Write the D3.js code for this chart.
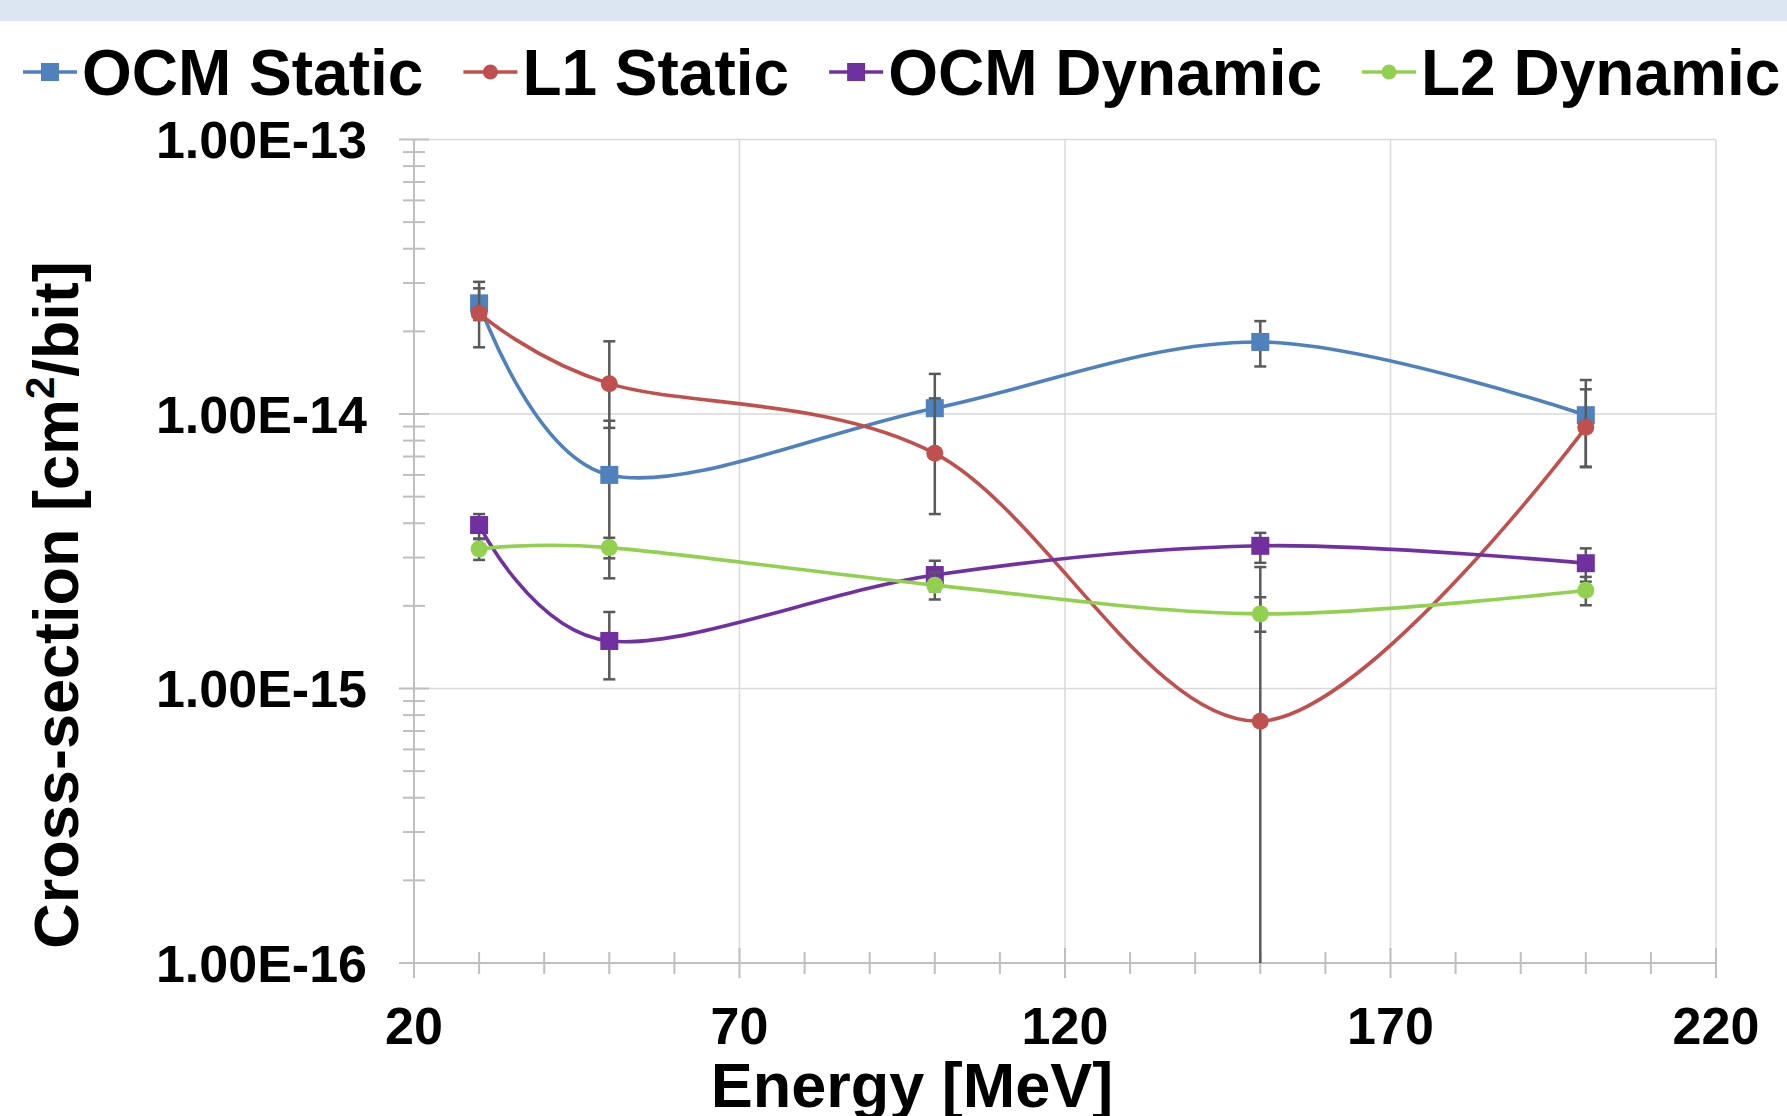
<!DOCTYPE html>
<html>
<head>
<meta charset="utf-8">
<script src="https://cdn.jsdelivr.net/npm/d3@7"></script>
<style>
  html, body { margin: 0; padding: 0; background: #FFFFFF; }
  svg { display: block; }
  text { font-family: "Liberation Sans", Arial, sans-serif; font-weight: bold; fill: #000000; }
</style>
</head>
<body>
<svg id="chart"></svg>
<script>
//--Data
var energy = [30, 50, 100, 150, 200];

var ocmStatic   = [2.53e-14, 6.0e-15, 1.05e-14, 1.83e-14, 9.9e-15];
var ocmStaticLo = [2.2e-14, 2.52e-15, 7.5e-15, 1.49e-14, 6.43e-15];
var ocmStaticHi = [3.03e-14, 9.45e-15, 1.40e-14, 2.18e-14, 1.33e-14];

var l1Static   = [2.33e-14, 1.29e-14, 7.19e-15, 7.6e-16, 8.94e-15];
var l1StaticLo = [1.75e-14, 8.9e-15, 4.32e-15, 0, 6.4e-15];
var l1StaticHi = [2.87e-14, 1.84e-14, 1.14e-14, 2.77e-15, 1.23e-14];

var ocmDynamic   = [3.94e-15, 1.49e-15, 2.59e-15, 3.31e-15, 2.86e-15];
var ocmDynamicLo = [3.52e-15, 1.08e-15, 2.26e-15, 2.87e-15, 2.45e-15];
var ocmDynamicHi = [4.32e-15, 1.90e-15, 2.92e-15, 3.69e-15, 3.24e-15];

var l2Dynamic   = [3.22e-15, 3.26e-15, 2.38e-15, 1.87e-15, 2.28e-15];
var l2DynamicLo = [2.94e-15, 2.98e-15, 2.11e-15, 1.61e-15, 2.01e-15];
var l2DynamicHi = [3.5e-15, 3.54e-15, 2.65e-15, 2.15e-15, 2.55e-15];

var seriesNames = ["OCM Static", "L1 Static", "OCM Dynamic", "L2 Dynamic"];
var xMajorTicks = [20, 70, 120, 170, 220];
var yDomain = [1e-16, 1e-13];

//--Shared info
var canvas = {
  width: 1787,
  height: 1116,
  left: 414,
  right: 1716,
  top: 139.5,
  bottom: 963,
  grid: "#D9D9D9",
  axis: "#BFBFBF",
  errColor: "#595959"
};
canvas.x = d3.scaleLinear().domain([20, 220]).range([canvas.left, canvas.right]);
canvas.y = d3.scaleLog().domain(yDomain).range([canvas.bottom, canvas.top]);

var series = [
  {name: seriesNames[0], color: "#4F81BD", shape: "square", v: ocmStatic, lo: ocmStaticLo, hi: ocmStaticHi},
  {name: seriesNames[1], color: "#C0504D", shape: "circle", v: l1Static, lo: l1StaticLo, hi: l1StaticHi},
  {name: seriesNames[2], color: "#7030A0", shape: "square", v: ocmDynamic, lo: ocmDynamicLo, hi: ocmDynamicHi},
  {name: seriesNames[3], color: "#92D050", shape: "circle", v: l2Dynamic, lo: l2DynamicLo, hi: l2DynamicHi}
];

let root = d3.select("#chart")
  .attr("width", canvas.width)
  .attr("height", canvas.height);

//Top band
root.append("rect")
  .attr("x", 0).attr("y", 0)
  .attr("width", canvas.width).attr("height", 21)
  .attr("fill", "#DCE6F2");

//--Grid
let isMajor = d => Math.abs(Math.log10(d) - Math.round(Math.log10(d))) < 1e-9;
let yTicks = canvas.y.ticks();

let grid = root.append("g").classed("grid", true);
grid.selectAll("line.h")
  .data(yTicks.filter(d => isMajor(d) && d > yDomain[0]))
  .enter().append("line")
  .attr("x1", canvas.left).attr("x2", canvas.right)
  .attr("y1", d => canvas.y(d)).attr("y2", d => canvas.y(d))
  .attr("stroke", canvas.grid).attr("stroke-width", 1.5);
grid.selectAll("line.v")
  .data(xMajorTicks.slice(1))
  .enter().append("line")
  .attr("x1", d => canvas.x(d)).attr("x2", d => canvas.x(d))
  .attr("y1", canvas.top).attr("y2", canvas.bottom)
  .attr("stroke", canvas.grid).attr("stroke-width", 1.5);

//--Axes
let axes = root.append("g").classed("axes", true)
  .attr("stroke", canvas.axis).attr("stroke-width", 2);
axes.append("line")
  .attr("x1", canvas.left).attr("x2", canvas.left)
  .attr("y1", canvas.top).attr("y2", canvas.bottom);
axes.append("line")
  .attr("x1", canvas.left).attr("x2", canvas.right)
  .attr("y1", canvas.bottom).attr("y2", canvas.bottom);

axes.selectAll("line.yt")
  .data(yTicks)
  .enter().append("line")
  .attr("x1", d => canvas.left - (isMajor(d) ? 15 : 11))
  .attr("x2", d => canvas.left + (isMajor(d) ? 15 : 11))
  .attr("y1", d => canvas.y(d)).attr("y2", d => canvas.y(d));
axes.selectAll("line.xt")
  .data(d3.range(20, 221, 10))
  .enter().append("line")
  .attr("x1", d => canvas.x(d)).attr("x2", d => canvas.x(d))
  .attr("y1", d => canvas.bottom - (xMajorTicks.includes(d) ? 15 : 11))
  .attr("y2", d => canvas.bottom + (xMajorTicks.includes(d) ? 15 : 11));

//Tick labels
root.append("g").selectAll("text")
  .data(yTicks.filter(isMajor))
  .enter().append("text")
  .attr("x", 367)
  .attr("y", d => canvas.y(d))
  .attr("dy", "0.36em")
  .attr("text-anchor", "end")
  .style("font-size", "52px")
  .text(d => "1.00E" + Math.round(Math.log10(d)));
root.append("g").selectAll("text")
  .data(xMajorTicks)
  .enter().append("text")
  .attr("x", d => canvas.x(d))
  .attr("y", 1044)
  .attr("text-anchor", "middle")
  .style("font-size", "52px")
  .text(d => d);

//Axis titles
root.append("text")
  .attr("x", 912).attr("y", 1107)
  .attr("text-anchor", "middle")
  .style("font-size", "63px")
  .text("Energy [MeV]");
let yTitle = root.append("text")
  .attr("transform", "translate(78,605) rotate(-90)")
  .attr("text-anchor", "middle")
  .style("font-size", "63px");
yTitle.append("tspan").text("Cross-section [cm");
yTitle.append("tspan").attr("dy", -24).style("font-size", "40px").text("2");
yTitle.append("tspan").attr("dy", 24).text("/bit]");

//--Series
let line = d3.line()
  .x(d => canvas.x(d.e))
  .y(d => canvas.y(d.v))
  .curve(d3.curveCatmullRom.alpha(0));

function drawMarker(sel, s, size) {
  if (s.shape === "square") {
    sel.append("rect")
      .attr("x", -size / 2).attr("y", -size / 2)
      .attr("width", size).attr("height", size)
      .attr("fill", s.color);
  } else {
    sel.append("circle")
      .attr("r", size / 2)
      .attr("fill", s.color);
  }
}

let plot = root.append("g").classed("series", true);
series.forEach(s => {
  let pts = energy.map((e, i) => ({e: e, v: s.v[i], lo: s.lo[i], hi: s.hi[i]}));
  let g = plot.append("g");

  g.append("path")
    .datum(pts)
    .attr("d", line)
    .attr("fill", "none")
    .attr("stroke", s.color)
    .attr("stroke-width", 3.6)
    .attr("stroke-linejoin", "round");

  //Error bars
  let eb = g.append("g")
    .attr("stroke", canvas.errColor)
    .attr("stroke-width", 2.5);
  eb.selectAll("line.bar")
    .data(pts)
    .enter().append("line")
    .attr("x1", d => canvas.x(d.e)).attr("x2", d => canvas.x(d.e))
    .attr("y1", d => d.lo > 0 ? canvas.y(d.lo) : canvas.bottom)
    .attr("y2", d => canvas.y(d.hi));
  eb.selectAll("line.capHi")
    .data(pts)
    .enter().append("line")
    .attr("x1", d => canvas.x(d.e) - 6).attr("x2", d => canvas.x(d.e) + 6)
    .attr("y1", d => canvas.y(d.hi)).attr("y2", d => canvas.y(d.hi));
  eb.selectAll("line.capLo")
    .data(pts.filter(d => d.lo > 0))
    .enter().append("line")
    .attr("x1", d => canvas.x(d.e) - 6).attr("x2", d => canvas.x(d.e) + 6)
    .attr("y1", d => canvas.y(d.lo)).attr("y2", d => canvas.y(d.lo));

  //Markers
  g.selectAll("g.marker")
    .data(pts)
    .enter().append("g")
    .attr("transform", d => "translate(" + canvas.x(d.e) + "," + canvas.y(d.v) + ")")
    .each(function () { drawMarker(d3.select(this), s, s.shape === "square" ? 18 : 17); });
});

//--Legend
let legend = root.append("g").classed("legend", true);
let lx = 23;
series.forEach(s => {
  let item = legend.append("g").attr("transform", "translate(" + lx + ",72)");
  item.append("line")
    .attr("x1", 0).attr("x2", 54)
    .attr("y1", 0).attr("y2", 0)
    .attr("stroke", s.color).attr("stroke-width", 3.6);
  let m = item.append("g").attr("transform", "translate(27,0)");
  drawMarker(m, s, s.shape === "square" ? 18 : 15);
  let t = item.append("text")
    .attr("x", 59).attr("y", 23)
    .style("font-size", "64px")
    .text(s.name);
  lx += 59 + t.node().getComputedTextLength() + 40;
});
</script>
</body>
</html>
